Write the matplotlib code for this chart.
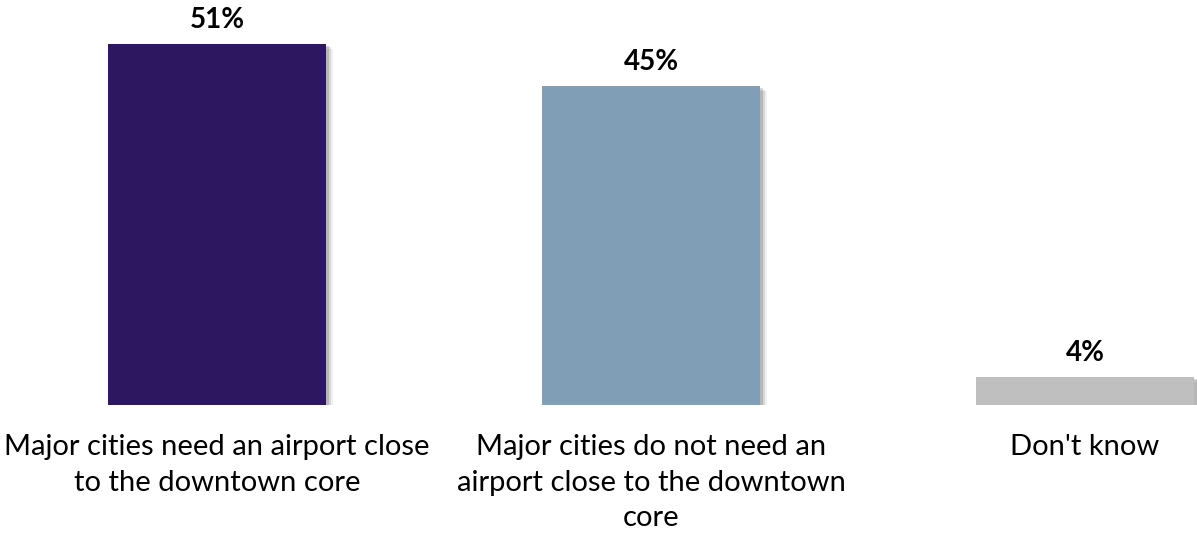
import numpy as np
import matplotlib
matplotlib.use("Agg")
import matplotlib.pyplot as plt
import matplotlib.patheffects as pe

categories = ["Major cities need an airport close\nto the downtown core",
              "Major cities do not need an\nairport close to the downtown\ncore",
              "Don't know"]
values = [51, 45, 4]
colors = ["#2D1760", "#809FB6", "#BFBFBF"]

plt.rcParams['font.family'] = ['Lato', 'DejaVu Sans']

fig = plt.figure(figsize=(11.97, 5.39), dpi=100)
ax = fig.add_axes([0, 1 - 405 / 539, 1, 405 / 539])

x = np.arange(len(values))
# soft drop shadow built from a few offset layers
shadow = [pe.SimplePatchShadow(offset=(5, -3.5), shadow_rgbFace="#000000", alpha=0.06),
          pe.SimplePatchShadow(offset=(3.5, -2.5), shadow_rgbFace="#000000", alpha=0.1),
          pe.SimplePatchShadow(offset=(2, -1.5), shadow_rgbFace="#000000", alpha=0.15),
          pe.Normal()]
bars = ax.bar(x, values, width=0.502, color=colors, zorder=2)
for b in bars:
    b.set_path_effects(shadow)

for xi, v in zip(x, values):
    ax.annotate(f"{v}%", (xi, v), xytext=(0, 8), textcoords="offset points",
                ha="center", va="bottom", fontsize=20, fontweight="bold", color="#000000")

ax.set_xlim(-0.5, -0.5 + 1197 / 434)
ax.set_ylim(0, 57.2)
ax.set_xticks(x)
ax.set_xticklabels(categories, fontsize=21, linespacing=1.45, color="#000000")
ax.tick_params(axis="x", length=0, pad=21)
ax.set_yticks([])
for s in ax.spines.values():
    s.set_visible(False)

fig.savefig("out.png", dpi=100)
